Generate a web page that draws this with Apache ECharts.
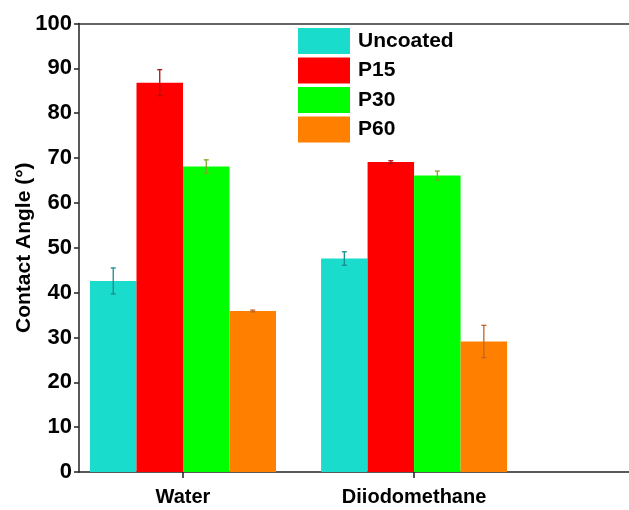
<!DOCTYPE html>
<html>
<head>
<meta charset="utf-8">
<script src="https://cdn.jsdelivr.net/npm/echarts@6/dist/echarts.min.js"></script>
<style>
    html, body { margin: 0; padding: 0; background: #fff; }
    #main { width: 629px; height: 510px; }
</style>
</head>
<body>
<div id="main"></div>
<script>
// contact angle data
var categories = ['Water', 'Diiodomethane'];
var seriesNames = ['Uncoated', 'P15', 'P30', 'P60'];
var uncoated = [42.6, 47.6];
var p15 = [86.8, 69.1];
var p30 = [68.1, 66.1];
var p60 = [35.9, 29.1];
var uncoatedErr = [2.9, 1.5];
var p15Err = [2.9, 0.3];
var p30Err = [1.5, 1.0];
var p60Err = [0.2, 3.6];
var yTicks = [0, 10, 20, 30, 40, 50, 60, 70, 80, 90, 100];

var colors = ['#19dccd', '#ff0000', '#00ff00', '#ff8000'];
var errColors = ['#1a8c8c', '#b01010', '#7aa828', '#c0642a'];
var values = [uncoated, p15, p30, p60];
var errs = [uncoatedErr, p15Err, p30Err, p60Err];
var barW = 46.5;
var font = 'Liberation Sans, Arial, sans-serif';

var myChart = echarts.init(document.getElementById('main'));

var series = [];
seriesNames.forEach(function (name, i) {
    series.push({
        name: name,
        type: 'bar',
        barWidth: barW,
        barGap: '0%',
        itemStyle: { color: colors[i] },
        data: values[i].map(function (v, k) { return [k + 1, v]; })
    });
});
// error bars
seriesNames.forEach(function (name, i) {
    series.push({
        type: 'custom',
        silent: true,
        z: 5,
        data: values[i].map(function (v, k) { return [k + 1, v - errs[i][k], v + errs[i][k]]; }),
        renderItem: function (params, api) {
            var lo = api.coord([api.value(0), api.value(1)]);
            var hi = api.coord([api.value(0), api.value(2)]);
            var x = lo[0] + (i - 1.5) * barW;
            var c = 2.5;
            var st = { stroke: errColors[i], lineWidth: 1.3 };
            return {
                type: 'group',
                children: [
                    { type: 'line', shape: { x1: x, y1: lo[1], x2: x, y2: hi[1] }, style: st },
                    { type: 'line', shape: { x1: x - c, y1: lo[1], x2: x + c, y2: lo[1] }, style: st },
                    { type: 'line', shape: { x1: x - c, y1: hi[1], x2: x + c, y2: hi[1] }, style: st }
                ]
            };
        }
    });
});

var option = {
    backgroundColor: '#fff',
    animation: false,
    grid: {
        left: 79,
        top: 23.5,
        right: 0,
        bottom: 38,
        outerBoundsMode: 'none'
    },
    legend: {
        data: seriesNames,
        orient: 'vertical',
        left: 298,
        top: 28,
        padding: 0,
        icon: 'rect',
        itemWidth: 52,
        itemHeight: 26,
        itemGap: 3.5,
        selectedMode: false,
        textStyle: { fontFamily: font, fontWeight: 'bold', fontSize: 21, color: '#000', padding: [0, 0, 0, 3] }
    },
    xAxis: [{
        type: 'value',
        min: 0.55,
        max: 2.93,
        splitLine: { show: false },
        axisLine: { lineStyle: { color: '#222', width: 1.5 } },
        axisTick: { customValues: [1, 2], length: 6, lineStyle: { color: '#222', width: 1.5 } },
        axisLabel: {
            customValues: [1, 2],
            formatter: function (v) { return categories[Math.round(v) - 1]; },
            fontFamily: font, fontWeight: 'bold', fontSize: 20, color: '#000', margin: 15
        }
    }, {
        // top frame line
        type: 'value',
        position: 'top',
        min: 0.55,
        max: 2.93,
        splitLine: { show: false },
        axisLine: { show: true, lineStyle: { color: '#333', width: 1.5 } },
        axisTick: { show: false },
        axisLabel: { show: false }
    }],
    yAxis: {
        type: 'value',
        min: 0,
        max: 100,
        interval: 10,
        name: 'Contact Angle (°)',
        nameLocation: 'middle',
        nameGap: 44,
        nameMoveOverlap: false,
        nameTextStyle: { fontFamily: font, fontWeight: 'bold', fontSize: 21, color: '#000' },
        splitLine: { show: false },
        axisLine: { show: true, lineStyle: { color: '#222', width: 1.5 } },
        axisTick: { show: true, length: 5, lineStyle: { color: '#222', width: 1.5 } },
        axisLabel: {
            fontFamily: font, fontWeight: 'bold', fontSize: 22, color: '#000', margin: 7,
            formatter: function (v) { return yTicks.indexOf(v) >= 0 ? String(v) : ''; }
        }
    },
    series: series
};

myChart.setOption(option);
</script>
</body>
</html>
